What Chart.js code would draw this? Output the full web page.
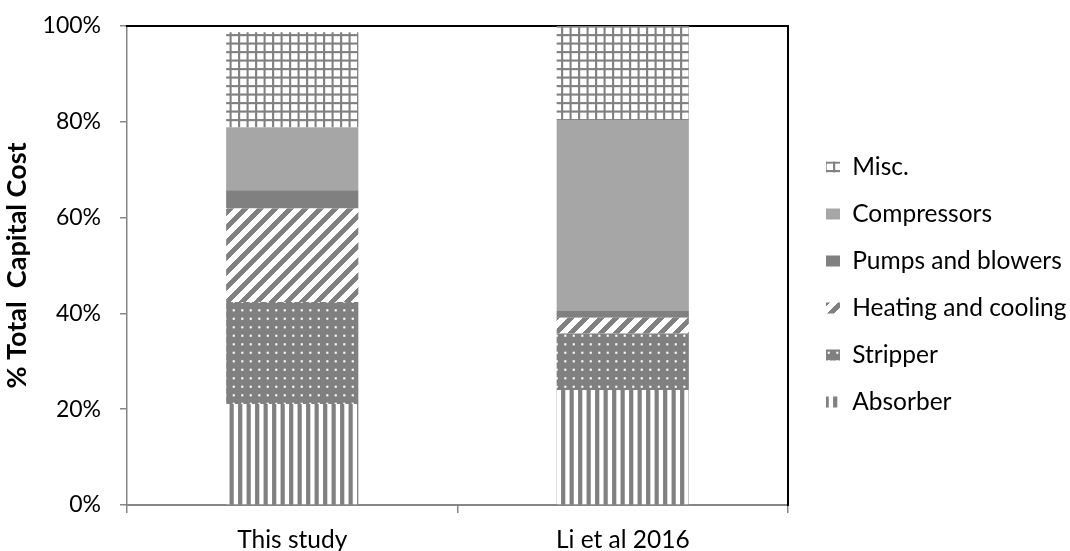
<!DOCTYPE html>
<html>
<head>
<meta charset="utf-8">
<script src="https://cdn.jsdelivr.net/npm/chart.js@4.4.1/dist/chart.umd.min.js"></script>
<style>
  html, body { margin: 0; padding: 0; background: #fff; }
  #wrap { width: 1070px; height: 551px; }
</style>
</head>
<body>
<div id="wrap"><canvas id="c" width="1070" height="551"></canvas></div>
<script>
// Share of total capital cost by equipment group (%)
const categories = ['This study', 'Li et al 2016'];
const absorber       = [21.1, 24.0];
const stripper       = [21.3, 11.8];
const heatingCooling = [19.5, 3.3];
const pumpsBlowers   = [3.8, 1.4];
const compressors    = [13.1, 39.9];
const misc           = [19.9, 19.6];
const yTickValues = [0, 20, 40, 60, 80, 100];
const yTickLabels = ['0%', '20%', '40%', '60%', '80%', '100%'];

const FONT = "Lato, 'Liberation Sans', sans-serif";
const GRAY = '#808080';
const AXIS = '#868686';
const canvas = document.getElementById('c');
const ctx = canvas.getContext('2d');

// square fill tiles, drawn in gray on white
function makePattern(size, scale, draw) {
  const t = document.createElement('canvas');
  t.width = size; t.height = size;
  const g = t.getContext('2d');
  g.fillStyle = '#fff';
  g.fillRect(0, 0, size, size);
  g.fillStyle = GRAY;
  draw(g, size);
  const p = ctx.createPattern(t, 'repeat');
  if (scale !== 1) p.setTransform(new DOMMatrix().scale(scale));
  return p;
}
const vertStripes = makePattern(8, 17 / 16, g => g.fillRect(0, 0, 4, 8));
const dotted = makePattern(8, 17 / 16, g => {
  g.fillRect(0, 0, 8, 8);
  g.fillStyle = '#fff';
  g.fillRect(3, 3, 2, 2);
});
const diagonal = makePattern(15, 1, (g, n) => {
  for (let y = 0; y < n; y++)
    for (let x = 0; x < n; x++)
      if ((x + y) % n < 7) g.fillRect(x, y, 1, 1);
});
const gridTile = makePattern(8, 17 / 16, g => {
  g.fillRect(0, 0, 8, 2);
  g.fillRect(0, 0, 2, 8);
});

const CHART_RIGHT = 788;
const LEGEND_BOX_X = 826;
const LEGEND_SHIFT_Y = -4;

// keep the plot area clear of the legend and place the legend column
const legendPlacement = {
  id: 'legendPlacement',
  beforeUpdate(chart) {
    const lg = chart.legend;
    if (lg && !lg._fixedWidth) {
      const fit = lg.fit.bind(lg);
      lg.fit = function () {
        fit();
        this.width = chart.width - CHART_RIGHT;
      };
      lg._fixedWidth = true;
    }
  },
  afterLayout(chart) {
    const lg = chart.legend;
    const dx = LEGEND_BOX_X - (lg.left + lg.options.labels.padding);
    lg.left += dx;
    lg.right += dx;
    lg.top += LEGEND_SHIFT_Y;
    lg.bottom += LEGEND_SHIFT_Y;
  }
};

const noEdgePadding = s => {
  s.paddingTop = 0; s.paddingBottom = 0;
  s.paddingLeft = 0; s.paddingRight = 0;
};

const ds = (label, data, fill) => ({
  label, data,
  backgroundColor: fill,
  borderColor: 'rgba(0,0,0,0)',
  borderWidth: 0
});

new Chart(ctx, {
  type: 'bar',
  data: {
    labels: categories,
    datasets: [
      ds('Absorber', absorber, vertStripes),
      ds('Stripper', stripper, dotted),
      ds('Heating and cooling', heatingCooling, diagonal),
      ds('Pumps and blowers', pumpsBlowers, GRAY),
      ds('Compressors', compressors, '#a6a6a6'),
      ds('Misc.', misc, gridTile)
    ]
  },
  options: {
    responsive: false,
    animation: false,
    layout: { padding: { top: 26, bottom: 0, left: 0, right: 0 } },
    datasets: { bar: { barPercentage: 0.4, categoryPercentage: 1 } },
    font: { family: FONT },
    scales: {
      x: {
        stacked: true,
        grid: { display: true, drawOnChartArea: false, tickLength: 8, color: AXIS, lineWidth: 1.5, offset: true },
        border: { color: AXIS, width: 2 },
        ticks: { color: '#000', padding: 12, font: { family: FONT, size: 24.5 } },
        afterFit(s) { s.height = 46; noEdgePadding(s); }
      },
      y: {
        stacked: true,
        min: 0, max: 100,
        afterBuildTicks(s) { s.ticks = yTickValues.map(v => ({ value: v })); },
        ticks: {
          color: '#000', padding: 19,
          font: { family: FONT, size: 23 },
          callback: (v, i) => yTickLabels[i]
        },
        grid: { display: true, drawOnChartArea: false, tickLength: 7, color: AXIS, lineWidth: 1.5 },
        border: { color: AXIS, width: 1.5 },
        title: {
          display: true, text: '% Total  Capital Cost', color: '#000',
          font: { family: FONT, size: 27, weight: 'bold' },
          padding: { top: 1, bottom: 0 }
        },
        afterFit(s) { s.width = 127; noEdgePadding(s); }
      },
      xTop: {
        type: 'category', position: 'top', display: true,
        grid: { display: false }, ticks: { display: false },
        border: { color: '#000', width: 2 },
        afterFit(s) { s.height = 0; noEdgePadding(s); }
      },
      yRight: {
        type: 'linear', position: 'right', display: true, min: 0, max: 100,
        grid: { display: false }, ticks: { display: false },
        border: { color: '#000', width: 2 },
        afterFit(s) { s.width = 0; noEdgePadding(s); }
      }
    },
    plugins: {
      legend: {
        position: 'right',
        reverse: true,
        labels: {
          boxWidth: 14, boxHeight: 11, padding: 22.5,
          color: '#000',
          font: { family: FONT, size: 24.5 }
        }
      },
      tooltip: { enabled: false }
    }
  },
  plugins: [legendPlacement]
});
</script>
</body>
</html>
